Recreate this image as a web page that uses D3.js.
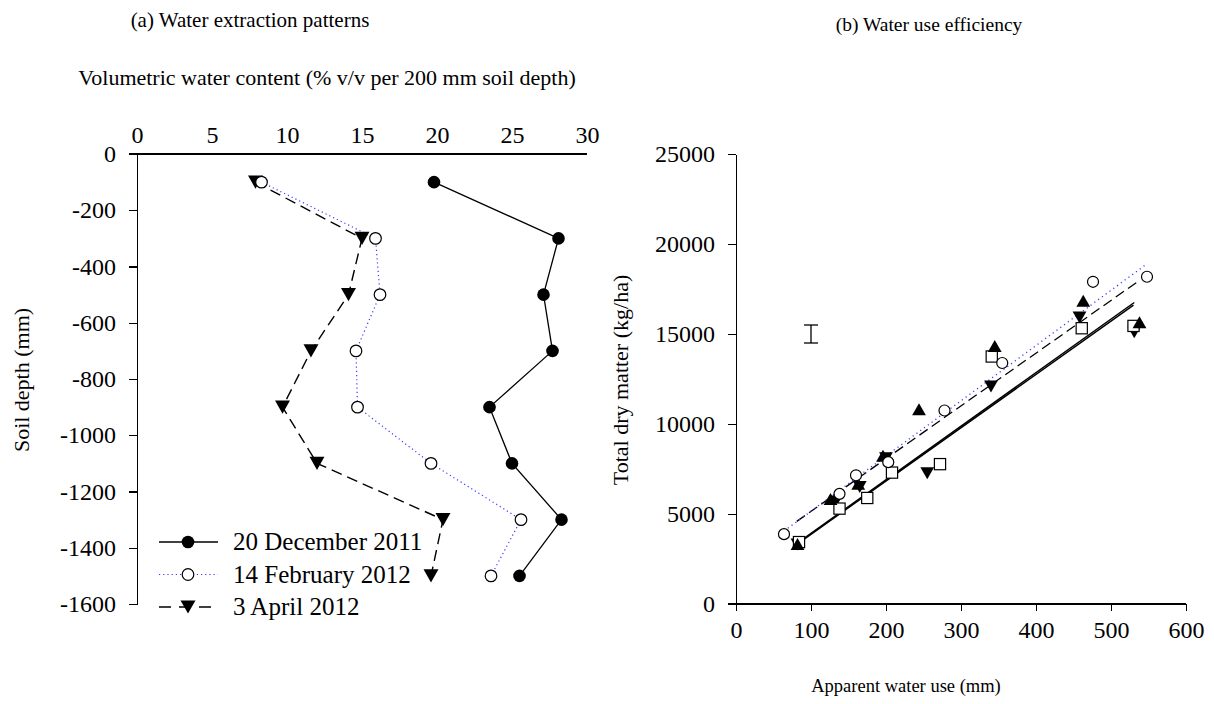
<!DOCTYPE html>
<html>
<head>
<meta charset="UTF-8">
<title>Water extraction and water use efficiency</title>
<style>
	body { margin: 0; background: white; }
	.axis path, .axis line { stroke: black; stroke-width: 1.3; shape-rendering: crispEdges; }
</style>
</head>
<body>
<script src="https://d3js.org/d3.v7.min.js"></script>
<script>

// ---- panel (a) data: soil depth profile ----
let depths = [-100, -300, -500, -700, -900, -1100, -1300, -1500];
let vwcDec2011 = [19.8, 28.1, 27.1, 27.7, 23.5, 25.0, 28.3, 25.5];
let vwcFeb2012 = [8.3, 15.9, 16.2, 14.6, 14.7, 19.6, 25.6, 23.6];
let vwcApr2012 = [7.9, 15.0, 14.1, 11.6, 9.7, 12.0, 20.4, 19.6];
let profileNames = ["20 December 2011", "14 February 2012", "3 April 2012"];
let vwcTicks = [0, 5, 10, 15, 20, 25, 30];
let depthTicks = [0, -200, -400, -600, -800, -1000, -1200, -1400, -1600];

// ---- panel (b) data: dry matter vs water use ----
let wuCircle = [64, 138, 160, 203, 278, 355, 476, 548];
let dmCircle = [3880, 6120, 7150, 7880, 10750, 13390, 17900, 18180];
let wuTriUp = [82, 126, 163, 196, 244, 345, 463, 538];
let dmTriUp = [3330, 5830, 6680, 8230, 10820, 14340, 16850, 15650];
let wuTriDown = [82, 133, 165, 200, 255, 340, 458, 531];
let dmTriDown = [3300, 5700, 6500, 8100, 7270, 12080, 15910, 15100];
let wuSquare = [84, 138, 175, 208, 272, 341, 461, 530];
let dmSquare = [3440, 5300, 5890, 7300, 7770, 13750, 15320, 15450];
// fitted lines: [x0, y0, x1, y1]
let fitCircle = [64, 4050, 548, 18900];
let fitTriUp = [81, 4590, 538, 17980];
let fitTriDown = [80, 3330, 531, 16750];
let fitSquare = [84, 3400, 530, 16600];
let errBar = [100, 15000, 500];
let wuTicks = [0, 100, 200, 300, 400, 500, 600];
let dmTicks = [0, 5000, 10000, 15000, 20000, 25000];

let SERIF = "Liberation Serif";

let svg = d3.select("body").append("svg")
	.attr("width", 1214)
	.attr("height", 704)
	.attr("font-family", SERIF);

// triangle path centred on its box
function tri(size, up) {
	let h = size * 0.87, w = size / 2;
	if (up) return `M0,${-h/2}L${w},${h/2}L${-w},${h/2}Z`;
	return `M0,${h/2}L${w},${-h/2}L${-w},${-h/2}Z`;
}

function label(x, y, size, str, rot) {
	let t = svg.append("text")
		.attr("text-anchor", "middle")
		.attr("font-family", SERIF)
		.attr("font-size", size)
		.attr("fill", "black")
		.text(str);
	if (rot) t.attr("transform", `translate(${x},${y}) rotate(-90)`);
	else t.attr("x", x).attr("y", y);
	return t;
}

function styleAxis(g) {
	g.attr("font-family", SERIF).attr("font-size", 24);
	g.selectAll("text").attr("fill", "black");
}

// ================= panel (a) =================
let xa = d3.scaleLinear().domain([0, 30]).range([137, 587]);
let ya = d3.scaleLinear().domain([0, -1600]).range([154, 604]);

label(250, 27, 21, "(a) Water extraction patterns");
label(327, 85, 22, "Volumetric water content (% v/v per 200 mm soil depth)");
label(29, 380, 22, "Soil depth (mm)", true);

svg.append("g").attr("class", "axis")
	.attr("transform", "translate(0,154)")
	.call(d3.axisTop(xa).tickValues(vwcTicks).tickSize(0).tickPadding(11).tickFormat(d3.format("d")))
	.call(g => g.select(".domain").attr("d", "M129,0H587"))
	.call(styleAxis);

svg.append("g").attr("class", "axis")
	.attr("transform", "translate(137,0)")
	.call(d3.axisLeft(ya).tickValues(depthTicks).tickSize(8).tickSizeOuter(0).tickPadding(13).tickFormat(d => String(d)))
	.call(styleAxis);

let profiles = [
	{vals: vwcDec2011, dash: null, color: "black", width: 1.3, mark: "fcircle"},
	{vals: vwcFeb2012, dash: "1.2,3", color: "#3a3aff", width: 1.2, mark: "ocircle"},
	{vals: vwcApr2012, dash: "11,6", color: "black", width: 1.4, mark: "tdown"}
];

let lineA = d3.line().x(d => xa(d[0])).y(d => ya(d[1]));

function drawMark(g, kind, x, y, s) {
	if (kind == "fcircle") g.append("circle").attr("cx", x).attr("cy", y).attr("r", s).attr("fill", "black");
	else if (kind == "ocircle") g.append("circle").attr("cx", x).attr("cy", y).attr("r", s).attr("fill", "white").attr("stroke", "black").attr("stroke-width", 1.2);
	else if (kind == "tdown") g.append("path").attr("d", tri(s * 2.3, false)).attr("transform", `translate(${x},${y})`).attr("fill", "black");
	else if (kind == "tup") g.append("path").attr("d", tri(s * 2.3, true)).attr("transform", `translate(${x},${y})`).attr("fill", "black");
	else if (kind == "square") g.append("rect").attr("x", x - s).attr("y", y - s).attr("width", 2 * s).attr("height", 2 * s).attr("fill", "white").attr("stroke", "black").attr("stroke-width", 1.2);
}

function markSize(kind) {
	if (kind == "fcircle") return 6.3;
	if (kind == "tdown") return 6.5;
	return 5.8;
}

let ga = svg.append("g");
profiles.forEach(p => {
	let pts = p.vals.map((v, i) => [v, depths[i]]);
	ga.append("path").datum(pts).attr("d", lineA)
		.attr("fill", "none").attr("stroke", p.color).attr("stroke-width", p.width)
		.attr("stroke-dasharray", p.dash);
});
profiles.slice().reverse().forEach(p => {
	p.vals.forEach((v, i) => drawMark(ga, p.mark, xa(v), ya(depths[i]), markSize(p.mark)));
});

// legend
profiles.forEach((p, i) => {
	let y = 542 + i * 32.5;
	let lg = svg.append("g");
	lg.append("line").attr("x1", 159).attr("x2", 218).attr("y1", y).attr("y2", y)
		.attr("stroke", p.color).attr("stroke-width", p.width)
		.attr("stroke-dasharray", p.dash == null ? null : (i == 2 ? "12,8" : p.dash));
	drawMark(lg, p.mark, 188, y, markSize(p.mark));
	lg.append("text").attr("x", 233).attr("y", y + 8)
		.attr("font-family", SERIF).attr("font-size", 25).text(profileNames[i]);
});

// ================= panel (b) =================
let xb = d3.scaleLinear().domain([0, 600]).range([736, 1186]);
let yb = d3.scaleLinear().domain([0, 25000]).range([604, 154]);

label(929, 31, 19.5, "(b) Water use efficiency");
label(906, 692, 18.5, "Apparent water use (mm)");
label(628, 380, 22, "Total dry matter (kg/ha)", true);

svg.append("g").attr("class", "axis")
	.attr("transform", "translate(0,604)")
	.call(d3.axisBottom(xb).tickValues(wuTicks).tickSize(7).tickSizeOuter(0).tickPadding(10).tickFormat(d3.format("d")))
	.call(g => g.select(".domain").attr("d", "M728,0H1186"))
	.call(styleAxis);

svg.append("g").attr("class", "axis")
	.attr("transform", "translate(736,0)")
	.call(d3.axisLeft(yb).tickValues(dmTicks).tickSize(8).tickSizeOuter(0).tickPadding(13).tickFormat(d3.format("d")))
	.call(styleAxis);

let gb = svg.append("g");
let fits = [
	{f: fitSquare, dash: null, color: "black", width: 1.5},
	{f: fitTriDown, dash: null, color: "black", width: 1.5},
	{f: fitTriUp, dash: "10,5", color: "black", width: 1.3},
	{f: fitCircle, dash: "1.2,3.5", color: "#3a3aff", width: 1.3}
];
fits.forEach(l => {
	gb.append("line")
		.attr("x1", xb(l.f[0])).attr("y1", yb(l.f[1]))
		.attr("x2", xb(l.f[2])).attr("y2", yb(l.f[3]))
		.attr("stroke", l.color).attr("stroke-width", l.width)
		.attr("stroke-dasharray", l.dash);
});

// error bar
let eb = gb.append("g").attr("stroke", "black").attr("stroke-width", 1.3);
eb.append("line").attr("x1", xb(errBar[0])).attr("x2", xb(errBar[0]))
	.attr("y1", yb(errBar[1] - errBar[2])).attr("y2", yb(errBar[1] + errBar[2]));
[errBar[1] - errBar[2], errBar[1] + errBar[2]].forEach(v => {
	eb.append("line").attr("x1", xb(errBar[0]) - 7).attr("x2", xb(errBar[0]) + 7)
		.attr("y1", yb(v)).attr("y2", yb(v));
});

let groups = [
	{x: wuTriDown, y: dmTriDown, mark: "tdown", s: 6},
	{x: wuSquare, y: dmSquare, mark: "square", s: 5.6},
	{x: wuTriUp, y: dmTriUp, mark: "tup", s: 6},
	{x: wuCircle, y: dmCircle, mark: "ocircle", s: 5.5}
];
groups.forEach(g => {
	g.x.forEach((v, i) => drawMark(gb, g.mark, xb(v), yb(g.y[i]), g.s));
});

</script>
</body>
</html>
